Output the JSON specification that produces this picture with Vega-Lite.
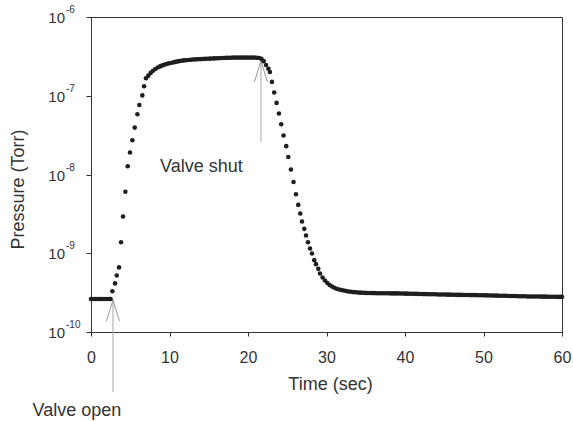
{
  "$schema": "https://vega.github.io/schema/vega-lite/v6.json",
  "width": 471,
  "height": 315,
  "autosize": "none",
  "padding": {"left": 91, "top": 17, "right": 11, "bottom": 89},
  "background": "white",
  "config": {
    "font": "Liberation Sans",
    "view": {"stroke": "#333", "strokeWidth": 1},
    "axis": {
      "domainColor": "#333", "tickColor": "#333", "labelColor": "#333", "titleColor": "#333",
      "grid": false, "titleFontWeight": "normal", "labelFont": "Liberation Sans", "titleFont": "Liberation Sans"
    }
  },
  "datasets": {
    "pressure": [
      {"t":0.0,"p":2.62e-10},{"t":0.3,"p":2.62e-10},{"t":0.6,"p":2.62e-10},{"t":0.9,"p":2.62e-10},{"t":1.2,"p":2.62e-10},
      {"t":1.5,"p":2.62e-10},{"t":1.8,"p":2.62e-10},{"t":2.1,"p":2.62e-10},{"t":2.4,"p":2.62e-10},{"t":2.5,"p":2.62e-10},
      {"t":2.72,"p":3.30e-10},{"t":3.06,"p":4.14e-10},{"t":3.28,"p":5.23e-10},{"t":3.57,"p":6.61e-10},{"t":3.83,"p":1.38e-9},
      {"t":4.08,"p":2.93e-9},{"t":4.38,"p":6.05e-9},{"t":4.68,"p":1.27e-8},{"t":4.97,"p":1.90e-8},{"t":5.27,"p":2.72e-8},
      {"t":5.57,"p":3.94e-8},{"t":5.91,"p":5.82e-8},{"t":6.16,"p":7.64e-8},{"t":6.54,"p":1.01e-7},{"t":6.76,"p":1.32e-7},
      {"t":7.0,"p":1.67e-7},{"t":7.3,"p":1.80e-7},{"t":7.6,"p":1.95e-7},{"t":7.9,"p":2.08e-7},{"t":8.2,"p":2.19e-7},
      {"t":8.5,"p":2.28e-7},{"t":8.8,"p":2.36e-7},{"t":9.1,"p":2.43e-7},{"t":9.4,"p":2.49e-7},{"t":9.7,"p":2.54e-7},
      {"t":10.0,"p":2.59e-7},{"t":10.3,"p":2.63e-7},{"t":10.6,"p":2.67e-7},{"t":10.9,"p":2.71e-7},{"t":11.2,"p":2.75e-7},
      {"t":11.5,"p":2.78e-7},{"t":11.8,"p":2.81e-7},{"t":12.1,"p":2.83e-7},{"t":12.4,"p":2.85e-7},{"t":12.7,"p":2.87e-7},
      {"t":13.0,"p":2.89e-7},{"t":13.3,"p":2.90e-7},{"t":13.6,"p":2.91e-7},{"t":13.9,"p":2.92e-7},{"t":14.2,"p":2.93e-7},
      {"t":14.5,"p":2.94e-7},{"t":14.8,"p":2.95e-7},{"t":15.1,"p":2.96e-7},{"t":15.4,"p":2.97e-7},{"t":15.7,"p":2.98e-7},
      {"t":16.0,"p":2.99e-7},{"t":16.3,"p":3.00e-7},{"t":16.6,"p":3.01e-7},{"t":16.9,"p":3.02e-7},{"t":17.2,"p":3.03e-7},
      {"t":17.5,"p":3.04e-7},{"t":17.8,"p":3.04e-7},{"t":18.1,"p":3.05e-7},{"t":18.4,"p":3.05e-7},{"t":18.7,"p":3.05e-7},
      {"t":19.0,"p":3.05e-7},{"t":19.3,"p":3.05e-7},{"t":19.6,"p":3.05e-7},{"t":19.9,"p":3.05e-7},{"t":20.2,"p":3.05e-7},
      {"t":20.5,"p":3.05e-7},{"t":20.8,"p":3.05e-7},{"t":21.1,"p":3.04e-7},{"t":21.4,"p":3.02e-7},{"t":21.7,"p":2.95e-7},
      {"t":22.0,"p":2.75e-7},{"t":22.3,"p":2.46e-7},{"t":22.6,"p":2.20e-7},
      {"t":22.79,"p":2.00e-7},{"t":23.05,"p":1.50e-7},{"t":23.34,"p":1.10e-7},{"t":23.64,"p":8.11e-8},{"t":23.94,"p":5.94e-8},
      {"t":24.23,"p":4.35e-8},{"t":24.53,"p":3.13e-8},{"t":24.87,"p":2.29e-8},{"t":25.13,"p":1.67e-8},{"t":25.47,"p":1.16e-8},
      {"t":25.80,"p":8.05e-9},{"t":26.11,"p":5.62e-9},{"t":26.40,"p":4.11e-9},{"t":26.66,"p":3.20e-9},{"t":26.88,"p":2.53e-9},
      {"t":27.17,"p":2.04e-9},{"t":27.39,"p":1.68e-9},{"t":27.64,"p":1.38e-9},{"t":27.90,"p":1.15e-9},{"t":28.15,"p":9.94e-10},
      {"t":28.44,"p":8.17e-10},{"t":28.66,"p":7.27e-10},{"t":28.95,"p":6.34e-10},{"t":29.17,"p":5.54e-10},{"t":29.50,"p":4.93e-10},
      {"t":29.8,"p":4.50e-10},{"t":30.1,"p":4.18e-10},{"t":30.4,"p":3.95e-10},{"t":30.7,"p":3.78e-10},{"t":31.0,"p":3.64e-10},
      {"t":31.3,"p":3.54e-10},{"t":31.6,"p":3.47e-10},{"t":31.9,"p":3.41e-10},{"t":32.2,"p":3.36e-10},{"t":32.5,"p":3.31e-10},
      {"t":32.8,"p":3.27e-10},{"t":33.1,"p":3.24e-10},{"t":33.4,"p":3.21e-10},{"t":33.7,"p":3.19e-10},{"t":34.0,"p":3.17e-10},
      {"t":34.3,"p":3.16e-10},{"t":34.6,"p":3.15e-10},{"t":34.9,"p":3.14e-10},{"t":35.2,"p":3.13e-10},{"t":35.5,"p":3.13e-10},
      {"t":35.8,"p":3.12e-10},{"t":36.1,"p":3.12e-10},{"t":36.4,"p":3.11e-10},{"t":36.7,"p":3.11e-10},{"t":37.0,"p":3.11e-10},
      {"t":37.3,"p":3.10e-10},{"t":37.6,"p":3.10e-10},{"t":37.9,"p":3.10e-10},{"t":38.2,"p":3.09e-10},{"t":38.5,"p":3.09e-10},
      {"t":38.8,"p":3.09e-10},{"t":39.1,"p":3.09e-10},{"t":39.4,"p":3.08e-10},{"t":39.7,"p":3.08e-10},{"t":40.0,"p":3.07e-10},
      {"t":40.3,"p":3.07e-10},{"t":40.6,"p":3.06e-10},{"t":40.9,"p":3.06e-10},{"t":41.2,"p":3.05e-10},{"t":41.5,"p":3.05e-10},
      {"t":41.8,"p":3.04e-10},{"t":42.1,"p":3.04e-10},{"t":42.4,"p":3.03e-10},{"t":42.7,"p":3.03e-10},{"t":43.0,"p":3.02e-10},
      {"t":43.3,"p":3.02e-10},{"t":43.6,"p":3.01e-10},{"t":43.9,"p":3.01e-10},{"t":44.2,"p":3.00e-10},{"t":44.5,"p":3.00e-10},
      {"t":44.8,"p":2.99e-10},{"t":45.1,"p":2.99e-10},{"t":45.4,"p":2.98e-10},{"t":45.7,"p":2.98e-10},{"t":46.0,"p":2.97e-10},
      {"t":46.3,"p":2.97e-10},{"t":46.6,"p":2.96e-10},{"t":46.9,"p":2.96e-10},{"t":47.2,"p":2.96e-10},{"t":47.5,"p":2.95e-10},
      {"t":47.8,"p":2.95e-10},{"t":48.1,"p":2.95e-10},{"t":48.4,"p":2.94e-10},{"t":48.7,"p":2.94e-10},{"t":49.0,"p":2.94e-10},
      {"t":49.3,"p":2.93e-10},{"t":49.6,"p":2.93e-10},{"t":49.9,"p":2.93e-10},{"t":50.2,"p":2.92e-10},{"t":50.5,"p":2.92e-10},
      {"t":50.8,"p":2.91e-10},{"t":51.1,"p":2.91e-10},{"t":51.4,"p":2.90e-10},{"t":51.7,"p":2.90e-10},{"t":52.0,"p":2.89e-10},
      {"t":52.3,"p":2.89e-10},{"t":52.6,"p":2.88e-10},{"t":52.9,"p":2.88e-10},{"t":53.2,"p":2.87e-10},{"t":53.5,"p":2.87e-10},
      {"t":53.8,"p":2.86e-10},{"t":54.1,"p":2.86e-10},{"t":54.4,"p":2.85e-10},{"t":54.7,"p":2.85e-10},{"t":55.0,"p":2.84e-10},
      {"t":55.3,"p":2.84e-10},{"t":55.6,"p":2.83e-10},{"t":55.9,"p":2.83e-10},{"t":56.2,"p":2.83e-10},{"t":56.5,"p":2.82e-10},
      {"t":56.8,"p":2.82e-10},{"t":57.1,"p":2.82e-10},{"t":57.4,"p":2.81e-10},{"t":57.7,"p":2.81e-10},{"t":58.0,"p":2.81e-10},
      {"t":58.3,"p":2.80e-10},{"t":58.6,"p":2.80e-10},{"t":58.9,"p":2.80e-10},{"t":59.2,"p":2.80e-10},{"t":59.5,"p":2.79e-10},
      {"t":59.8,"p":2.79e-10},{"t":60.0,"p":2.79e-10}
    ],
    "arrows": [
      {"t":2.8,"p":2.54e-10,"p2":1.73e-11},
      {"t":21.65,"p":2.77e-7,"p2":2.60e-8}
    ],
    "notes": [
      {"t":8.8,"p":1.08e-8,"label":"Valve shut"},
      {"t":-7.45,"p":8.69e-12,"label":"Valve open"}
    ],
    "ylabels": [
      {"p":1e-6,"base":"10","exp":"-6"},
      {"p":1e-7,"base":"10","exp":"-7"},
      {"p":1e-8,"base":"10","exp":"-8"},
      {"p":1e-9,"base":"10","exp":"-9"},
      {"p":1e-10,"base":"10","exp":"-10"}
    ]
  },
  "layer": [
    {
      "data": {"name": "arrows"},
      "mark": {"type": "rule", "color": "#a8a8a8", "strokeWidth": 1},
      "encoding": {
        "x": {"field": "t", "type": "quantitative"},
        "y": {"field": "p", "type": "quantitative"},
        "y2": {"field": "p2"}
      }
    },
    {
      "data": {"name": "arrows"},
      "mark": {"type": "point", "shape": "M -0.62 2 L 0 0 L 0.62 2", "filled": false, "color": "#999", "strokeWidth": 1, "size": 440, "opacity": 1},
      "encoding": {
        "x": {"field": "t", "type": "quantitative"},
        "y": {"field": "p", "type": "quantitative"}
      }
    },
    {
      "data": {"name": "pressure"},
      "mark": {"type": "circle", "size": 21, "color": "#1e1e1e", "opacity": 1},
      "encoding": {
        "x": {
          "field": "t", "type": "quantitative",
          "scale": {"domain": [0, 60], "nice": false, "zero": false},
          "axis": {
            "title": "Time (sec)", "values": [0, 10, 20, 30, 40, 50, 60],
            "tickSize": 4, "labelPadding": 13, "labelFontSize": 16, "labelFlush": false,
            "titleFontSize": 18, "titleBaseline": "alphabetic", "titleY": 57, "titleX": 239
          }
        },
        "y": {
          "field": "p", "type": "quantitative",
          "scale": {"type": "log", "domain": [1e-10, 1e-6], "nice": false},
          "axis": {
            "title": "Pressure (Torr)", "values": [1e-10, 1e-9, 1e-8, 1e-7, 1e-6],
            "labels": false, "tickSize": 5,
            "titleFontSize": 18, "titleAngle": 270, "titleBaseline": "alphabetic", "titleAlign": "center",
            "titleX": -68, "titleY": 172
          }
        }
      }
    },
    {
      "data": {"name": "ylabels"},
      "mark": {"type": "text", "align": "right", "baseline": "middle", "fontSize": 15, "color": "#333", "font": "Liberation Sans", "dx": -26, "dy": 1},
      "encoding": {
        "x": {"datum": 0, "type": "quantitative"},
        "y": {"field": "p", "type": "quantitative"},
        "text": {"field": "base"}
      }
    },
    {
      "data": {"name": "ylabels"},
      "mark": {"type": "text", "align": "left", "baseline": "alphabetic", "fontSize": 10, "color": "#333", "font": "Liberation Sans", "dx": -25, "dy": -4},
      "encoding": {
        "x": {"datum": 0, "type": "quantitative"},
        "y": {"field": "p", "type": "quantitative"},
        "text": {"field": "exp"}
      }
    },
    {
      "data": {"name": "notes"},
      "mark": {"type": "text", "align": "left", "baseline": "alphabetic", "fontSize": 18, "color": "#333", "font": "Liberation Sans"},
      "encoding": {
        "x": {"field": "t", "type": "quantitative"},
        "y": {"field": "p", "type": "quantitative"},
        "text": {"field": "label"}
      }
    }
  ]
}
